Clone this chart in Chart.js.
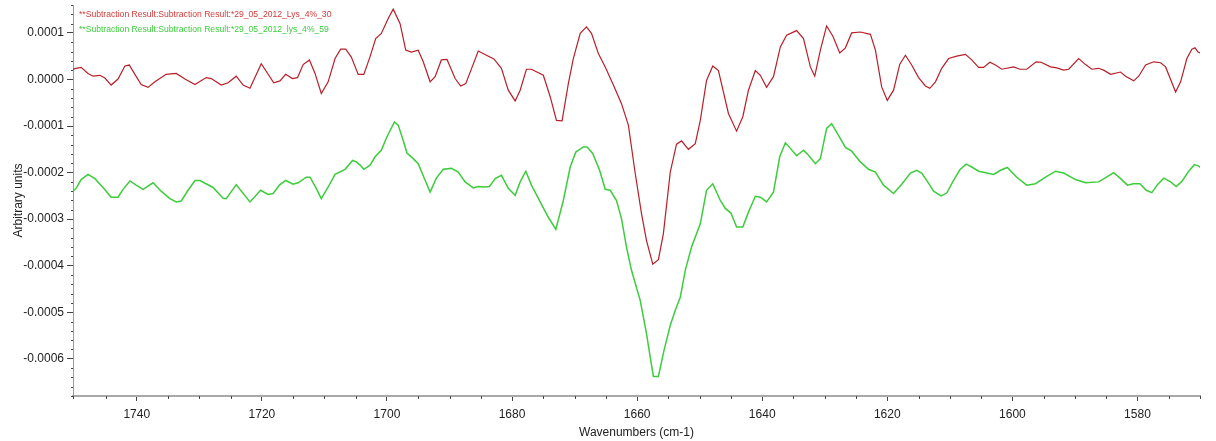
<!DOCTYPE html>
<html>
<head>
<meta charset="utf-8">
<script src="https://cdn.jsdelivr.net/npm/chart.js@4.4.1/dist/chart.umd.min.js"></script>
<style>
  html, body { margin: 0; padding: 0; background: #fff; }
</style>
</head>
<body>
<canvas id="spectrum" width="1216" height="441"></canvas>
<script>
const redLabel = '**Subtraction Result:Subtraction Result:*29_05_2012_Lys_4%_30';
const greenLabel = '**Subtraction Result:Subtraction Result:*29_05_2012_lys_4%_59';

// values are in units of 1e-6 (converted below)
const redWavenumbers = [
  1750.2, 1749.7, 1748.9, 1747.8, 1747.0, 1745.9, 1745.1, 1744.1, 1743.0, 1741.9,
  1741.2, 1740.3, 1739.3, 1738.2, 1737.1, 1735.3, 1733.7, 1732.3, 1730.7, 1728.9,
  1728.1, 1726.5, 1725.4, 1724.1, 1723.0, 1721.9, 1720.1, 1718.1, 1717.1, 1716.2,
  1715.1, 1714.3, 1713.4, 1712.4, 1711.5, 1710.5, 1709.4, 1708.3, 1707.4, 1706.6,
  1705.7, 1704.6, 1703.7, 1702.7, 1701.8, 1700.9, 1699.8, 1699.0, 1697.9, 1697.0,
  1696.1, 1695.0, 1694.2, 1693.1, 1692.3, 1691.3, 1690.4, 1689.1, 1688.2, 1687.4,
  1685.4, 1684.1, 1682.9, 1681.7, 1680.6, 1679.5, 1678.7, 1677.7, 1676.9, 1675.0,
  1673.9, 1672.9, 1672.0, 1671.0, 1670.2, 1669.1, 1668.1, 1667.3, 1666.2, 1665.1,
  1663.8, 1662.5, 1661.4, 1660.3, 1659.3, 1658.5, 1657.5, 1656.6, 1655.8, 1654.7,
  1653.7, 1652.9, 1651.8, 1650.7, 1649.9, 1648.9, 1647.9, 1647.0, 1645.4, 1644.1,
  1643.1, 1642.2, 1641.1, 1640.3, 1639.3, 1638.2, 1637.1, 1636.1, 1634.5, 1633.4,
  1632.3, 1631.6, 1630.7, 1629.7, 1628.7, 1627.6, 1626.7, 1625.7, 1624.3, 1622.7,
  1621.9, 1620.9, 1620.0, 1619.0, 1618.0, 1617.1, 1616.1, 1615.0, 1613.9, 1613.2,
  1612.3, 1611.3, 1610.2, 1608.9, 1607.5, 1606.5, 1605.4, 1604.6, 1603.6, 1602.7,
  1601.7, 1599.8, 1598.8, 1597.7, 1596.2, 1595.4, 1593.9, 1592.9, 1591.8, 1591.0,
  1589.4, 1588.3, 1587.3, 1586.2, 1585.4, 1584.3, 1582.7, 1581.9, 1580.6, 1579.8,
  1578.7, 1577.4, 1576.3, 1575.5, 1573.9, 1573.1, 1572.1, 1571.3, 1570.8, 1570.3,
  1570.0
];
const redValues = [
  22, 24, 26, 13, 7, 9, 3, -12, 1, 29,
  31, 11, -11, -17, -5, 11, 13, 1, -11, 4,
  2, -12, -7, 7, -12, -19, 34, -7, -3, 11,
  2, 4, 32, 42, 13, -30, -5, 45, 65, 65,
  48, 11, 11, 49, 88, 99, 131, 151, 120, 63,
  59, 63, 38, -5, 6, 42, 43, 2, -14, -9,
  61, 52, 44, 24, -23, -46, -23, 22, 22, 9,
  -37, -88, -89, -9, 45, 99, 113, 99, 56, 27,
  -12, -52, -98, -202, -288, -346, -397, -387, -331, -199,
  -139, -132, -150, -138, -88, -2, 29, 19, -73, -111,
  -80, -23, 19, 9, -17, 6, 70, 95, 105, 88,
  27, 7, 63, 115, 93, 57, 68, 100, 102, 97,
  63, -16, -45, -23, 33, 52, 31, 4, -14, -19,
  -5, 24, 45, 50, 54, 42, 26, 26, 37, 31,
  22, 27, 22, 22, 38, 37, 27, 25, 20, 22,
  45, 32, 22, 24, 20, 11, 16, 7, -3, 7,
  31, 38, 36, 27, -27, -5, 45, 65, 68, 59,
  57
];

const greenWavenumbers = [
  1750.2, 1749.7, 1748.9, 1747.8, 1746.7, 1745.4, 1744.1, 1743.0, 1742.2, 1741.1,
  1740.1, 1739.0, 1737.4, 1736.1, 1734.7, 1733.7, 1732.9, 1731.8, 1730.7, 1729.9,
  1727.8, 1726.2, 1725.7, 1724.1, 1721.9, 1720.2, 1719.0, 1718.2, 1717.2, 1716.2,
  1715.0, 1714.2, 1712.9, 1712.3, 1711.3, 1710.5, 1709.4, 1708.3, 1706.7, 1705.5,
  1704.9, 1704.3, 1703.7, 1702.7, 1701.9, 1700.9, 1700.0, 1698.8, 1698.2, 1697.4,
  1696.8, 1695.8, 1695.0, 1694.1, 1693.1, 1692.1, 1691.0, 1689.7, 1688.6, 1687.5,
  1686.2, 1685.4, 1684.3, 1683.6, 1682.7, 1681.7, 1680.6, 1679.5, 1678.7, 1677.8,
  1676.9, 1675.5, 1674.2, 1673.0, 1671.8, 1670.7, 1669.8, 1668.6, 1668.0, 1667.1,
  1666.0, 1665.1, 1664.3, 1663.3, 1662.5, 1661.7, 1660.9, 1659.5, 1658.5, 1657.9,
  1657.4, 1656.6, 1655.7, 1654.7, 1653.9, 1653.1, 1652.3, 1651.3, 1649.9, 1648.9,
  1647.9, 1646.7, 1645.9, 1645.0, 1644.1, 1643.1, 1642.2, 1641.1, 1640.3, 1639.3,
  1638.2, 1637.2, 1636.3, 1635.5, 1634.5, 1633.4, 1632.6, 1631.5, 1630.7, 1629.7,
  1628.9, 1627.8, 1626.7, 1625.7, 1624.3, 1623.0, 1621.9, 1620.6, 1619.0, 1617.7,
  1616.3, 1615.3, 1614.5, 1613.2, 1612.6, 1611.4, 1610.5, 1609.4, 1608.4, 1607.4,
  1606.5, 1605.4, 1603.0, 1601.9, 1600.8, 1599.3, 1597.7, 1596.3, 1594.7, 1593.1,
  1591.8, 1589.9, 1588.3, 1586.2, 1585.1, 1583.8, 1582.7, 1581.6, 1580.7, 1579.6,
  1578.6, 1577.7, 1576.8, 1575.8, 1574.7, 1573.8, 1572.9, 1571.8, 1570.9, 1570.2,
  1570.0
];
const greenValues = [
  -240, -234, -215, -204, -213, -232, -253, -253, -236, -218,
  -227, -236, -222, -240, -256, -263, -261, -238, -217, -217,
  -232, -255, -256, -226, -263, -238, -247, -245, -227, -217,
  -225, -222, -210, -210, -234, -256, -231, -204, -193, -174,
  -177, -184, -193, -184, -166, -152, -123, -91, -98, -131,
  -158, -170, -181, -210, -242, -212, -193, -191, -199, -220,
  -233, -230, -231, -230, -213, -206, -234, -249, -220, -197,
  -227, -263, -296, -322, -260, -188, -156, -145, -145, -159,
  -195, -236, -238, -260, -299, -360, -410, -475, -546, -597,
  -638, -638, -582, -528, -496, -468, -410, -360, -310, -238,
  -224, -260, -277, -287, -317, -317, -285, -251, -253, -263,
  -242, -166, -136, -148, -164, -152, -163, -181, -170, -105,
  -95, -120, -146, -154, -177, -193, -199, -227, -245, -225,
  -201, -195, -201, -227, -240, -250, -244, -217, -194, -182,
  -188, -197, -204, -195, -189, -210, -227, -224, -210, -197,
  -201, -215, -222, -220, -211, -200, -213, -227, -224, -224,
  -238, -243, -226, -212, -220, -230, -219, -197, -183, -186,
  -189
];

const xMin = 1570;
const xMax = 1750.2;
const yMin = -0.00068;
const yMax = 0.00016;

function toPoints(wavenumbers, values) {
  return wavenumbers.map((w, i) => ({ x: w, y: values[i] * 1e-6 }));
}

function isMajorY(v) {
  return Math.abs(Math.round(v * 1e4) / 1e4 - v) < 1e-9;
}

function isMajorX(v) {
  return Math.abs(v % 20) < 1e-6;
}

// small minor ticks and the series names in the top-left corner
const decorations = {
  id: 'decorations',
  afterDraw(chart) {
    const { ctx, chartArea } = chart;
    const xs = chart.scales.x;
    const ys = chart.scales.y;
    ctx.save();
    ctx.strokeStyle = '#444';
    ctx.lineWidth = 1;
    ctx.beginPath();
    xs.ticks.forEach((t) => {
      if (isMajorX(t.value)) return;
      const px = Math.round(xs.getPixelForValue(t.value)) + 0.5;
      ctx.moveTo(px, xs.top);
      ctx.lineTo(px, xs.top + 3);
    });
    ys.ticks.forEach((t) => {
      if (isMajorY(t.value)) return;
      const py = Math.round(ys.getPixelForValue(t.value)) + 0.5;
      ctx.moveTo(ys.right - 2, py);
      ctx.lineTo(ys.right, py);
    });
    ctx.stroke();

    ctx.font = '8.6px "Liberation Sans", Arial, sans-serif';
    ctx.textBaseline = 'middle';
    chart.data.datasets.forEach((ds, i) => {
      ctx.fillStyle = ds.textColor;
      ctx.fillText(ds.label, chartArea.left + 6, chartArea.top + 10 + i * 14.5);
    });
    ctx.restore();
  },
};

const ctx = document.getElementById('spectrum').getContext('2d');
const chart = new Chart(ctx, {
  type: 'line',
  data: {
    datasets: [
      {
        label: redLabel,
        data: toPoints(redWavenumbers, redValues),
        borderColor: '#b81e28',
        textColor: '#d23a3a',
        borderWidth: 1.2,
        pointRadius: 0,
        tension: 0,
      },
      {
        label: greenLabel,
        data: toPoints(greenWavenumbers, greenValues),
        borderColor: '#3ccc3c',
        textColor: '#3ccc3c',
        borderWidth: 1.5,
        pointRadius: 0,
        tension: 0,
      },
    ],
  },
  options: {
    responsive: false,
    animation: false,
    devicePixelRatio: 1,
    layout: { padding: { top: 5, right: 16, left: 0, bottom: 0 } },
    plugins: {
      legend: { display: false },
      tooltip: { enabled: false },
    },
    scales: {
      x: {
        type: 'linear',
        reverse: true,
        min: xMin,
        max: xMax,
        afterFit(scale) {
          scale.height = 45;
          scale.paddingLeft = 0;
          scale.paddingRight = 0;
        },
        border: { display: true, color: '#a8a8a8', width: 2 },
        grid: {
          drawOnChartArea: false,
          tickLength: 5,
          tickColor: (c) => (c.tick && isMajorX(c.tick.value) ? '#444' : 'rgba(0,0,0,0)'),
        },
        ticks: {
          stepSize: 5,
          autoSkip: false,
          maxTicksLimit: 1000,
          maxRotation: 0,
          padding: 6,
          color: '#222',
          font: { family: '"Liberation Sans", Arial, sans-serif', size: 12 },
          callback: (v) => (isMajorX(v) ? String(Math.round(v)) : ''),
        },
        title: {
          display: true,
          text: 'Wavenumbers (cm-1)',
          color: '#222',
          padding: { top: 0, bottom: 1 },
          font: { family: '"Liberation Sans", Arial, sans-serif', size: 12 },
        },
      },
      y: {
        type: 'linear',
        min: yMin,
        max: yMax,
        afterFit(scale) {
          scale.width = 73;
          scale.paddingTop = 0;
          scale.paddingBottom = 0;
        },
        border: { display: true, color: '#9a9a9a', width: 1 },
        grid: {
          drawOnChartArea: false,
          tickLength: 6,
          tickColor: (c) => (c.tick && isMajorY(c.tick.value) ? '#444' : 'rgba(0,0,0,0)'),
        },
        ticks: {
          stepSize: 0.00002,
          autoSkip: false,
          maxTicksLimit: 1000,
          padding: 3,
          color: '#222',
          font: { family: '"Liberation Sans", Arial, sans-serif', size: 12 },
          callback: (v) => (isMajorY(v) ? (Math.round(v * 1e4) / 1e4).toFixed(4) : ''),
        },
        title: {
          display: true,
          text: 'Arbitrary units',
          color: '#222',
          padding: { top: 11, bottom: 0 },
          font: { family: '"Liberation Sans", Arial, sans-serif', size: 12 },
        },
      },
    },
  },
  plugins: [decorations],
});
</script>
</body>
</html>
